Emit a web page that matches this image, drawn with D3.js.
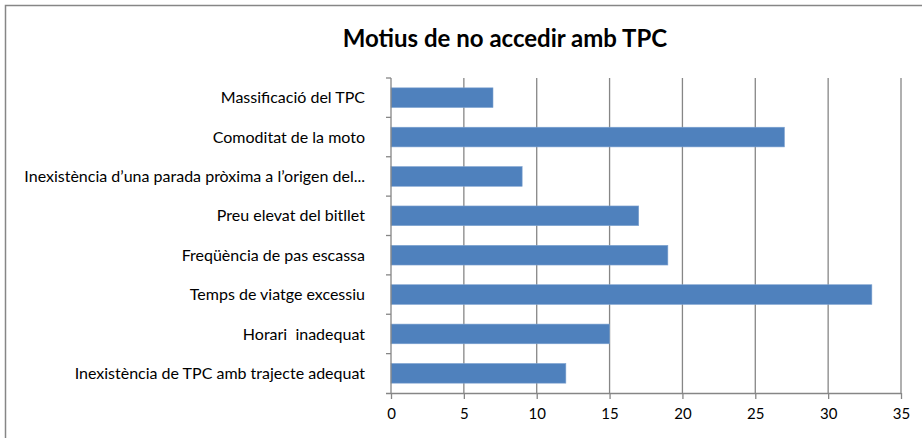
<!DOCTYPE html>
<html>
<head>
<meta charset="utf-8">
<script src="https://cdn.jsdelivr.net/npm/d3@7"></script>
<style>
  html, body { margin: 0; padding: 0; background: #fff; }
  svg { display: block; }
  text { font-family: Lato, "Open Sans", sans-serif; fill: #000; white-space: pre; }
</style>
</head>
<body>
<svg id="chart" width="922" height="438"></svg>
<script>
// Reasons for not commuting by public transport (TPC), top to bottom
const categories = [
  "Massificació del TPC",
  "Comoditat de la moto",
  "Inexistència d\u2019una parada pròxima a l\u2019origen del...",
  "Preu elevat del bitllet",
  "Freqüència de pas escassa",
  "Temps de viatge excessiu",
  "Horari  inadequat",
  "Inexistència de TPC amb trajecte adequat"
];
const values = [7, 27, 9, 17, 19, 33, 15, 12];
const xTicks = [0, 5, 10, 15, 20, 25, 30, 35];
const title = "Motius de no accedir amb TPC";

const svg = d3.select("#chart");
const plot = { left: 391, right: 901, top: 78, bottom: 393 };

// chart frame
svg.append("rect")
  .attr("x", 5.5).attr("y", 5.5)
  .attr("width", 930).attr("height", 450)
  .attr("fill", "none").attr("stroke", "#868686").attr("stroke-width", 1.5);

svg.append("text")
  .attr("x", 505).attr("y", 47)
  .attr("text-anchor", "middle")
  .attr("font-size", 24).attr("font-weight", "bold")
  .text(title);

const x = d3.scaleLinear().domain([0, 35]).range([plot.left, plot.right]);
const y = d3.scaleBand().domain(categories).range([plot.top, plot.bottom]).paddingInner(0.5).paddingOuter(0.25);
const yEdges = d3.scaleLinear().domain([0, categories.length]).range([plot.top, plot.bottom]);

// vertical gridlines
svg.append("g").selectAll("line")
  .data(xTicks.filter(t => t > 0))
  .join("line")
  .attr("x1", d => x(d)).attr("x2", d => x(d))
  .attr("y1", plot.top).attr("y2", plot.bottom)
  .attr("stroke", "#868686").attr("stroke-width", 1.3);

// bars
svg.append("g").selectAll("rect")
  .data(values)
  .join("rect")
  .attr("x", x(0))
  .attr("y", (d, i) => y(categories[i]))
  .attr("width", d => x(d) - x(0))
  .attr("height", y.bandwidth())
  .attr("fill", "#4F81BD")
  .attr("stroke", "#7FA3D0").attr("stroke-width", 0.6);

// x axis
const xAxis = svg.append("g")
  .attr("transform", `translate(0,${plot.bottom})`)
  .call(d3.axisBottom(x).tickValues(xTicks).tickSize(6).tickPadding(9).tickSizeOuter(0));
xAxis.select(".domain").attr("stroke", "#868686").attr("stroke-width", 1.3)
  .attr("d", `M${plot.left - 5},0.5H${plot.right}`);
xAxis.selectAll(".tick line").attr("stroke", "#868686").attr("stroke-width", 1.3);
xAxis.selectAll(".tick text").attr("font-size", 15).attr("font-family", "Lato, sans-serif").attr("fill", "#000");

// y axis line with tick marks at category boundaries
const yAxis = svg.append("g");
yAxis.append("line")
  .attr("x1", plot.left).attr("x2", plot.left)
  .attr("y1", plot.top).attr("y2", plot.bottom)
  .attr("stroke", "#868686").attr("stroke-width", 1.3);
yAxis.selectAll("line.tk")
  .data(d3.range(categories.length))
  .join("line").attr("class", "tk")
  .attr("x1", plot.left - 5).attr("x2", plot.left)
  .attr("y1", d => yEdges(d)).attr("y2", d => yEdges(d))
  .attr("stroke", "#868686").attr("stroke-width", 1.3);

// category labels
svg.append("g").selectAll("text")
  .data(categories)
  .join("text")
  .attr("x", plot.left - 26)
  .attr("y", d => y(d) + y.bandwidth() / 2)
  .attr("dy", "0.35em")
  .attr("text-anchor", "end")
  .attr("font-size", 16)
  .text(d => d);
</script>
</body>
</html>
